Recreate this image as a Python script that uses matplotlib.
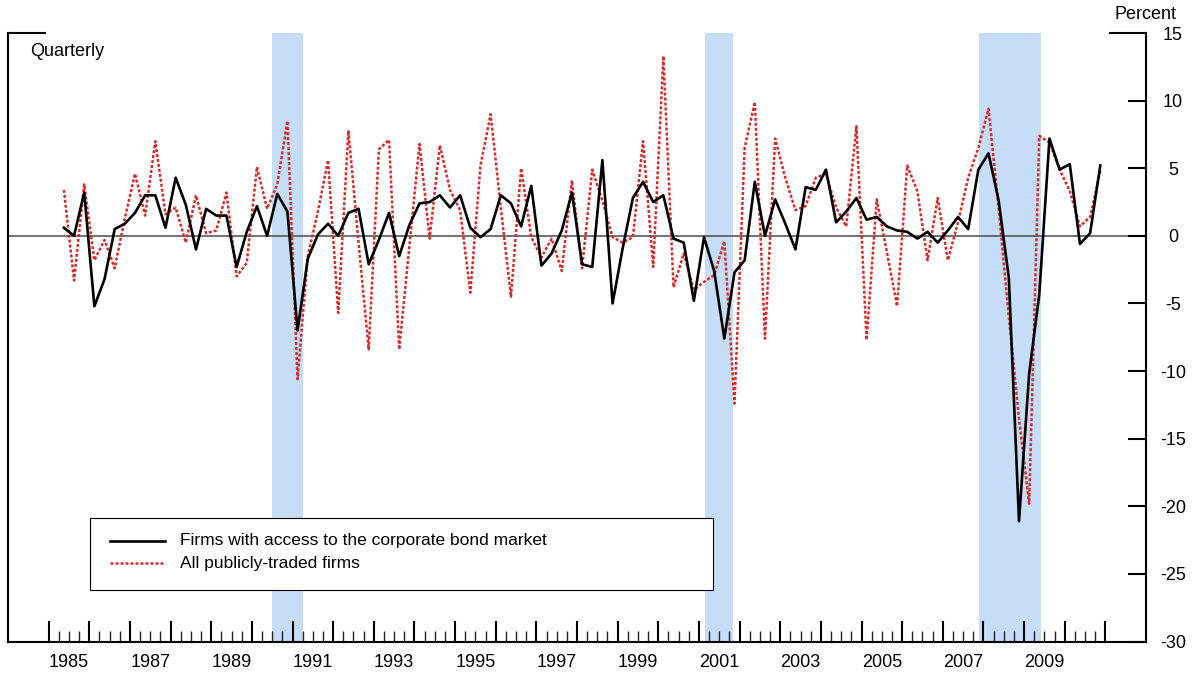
import numpy as np
import pandas as pd
import matplotlib
matplotlib.use("Agg")
import matplotlib.pyplot as plt
import matplotlib.transforms as mtransforms
from matplotlib.patches import Rectangle
from matplotlib.lines import Line2D

plt.rcParams['font.family'] = ['Liberation Sans', 'DejaVu Sans']
plt.rcParams['axes.unicode_minus'] = False

# Quarterly observations, 1985Q2 - 2010Q4 (percent)
quarters = pd.period_range("1985Q2", "2010Q4", freq="Q")

bond_access = [
    0.6, 0.0, 3.2, -5.2, -3.2, 0.5, 0.9, 1.7, 3.0, 3.0,
    0.6, 4.3, 2.3, -1.0, 2.0, 1.5, 1.5, -2.3, 0.3, 2.2,
    0.0, 3.1, 1.8, -7.0, -1.7, 0.1, 0.9, 0.0, 1.7, 2.0,
    -2.1, -0.3, 1.7, -1.5, 0.8, 2.4, 2.5, 3.0, 2.1, 3.0,
    0.6, -0.1, 0.5, 3.0, 2.4, 0.7, 3.7, -2.2, -1.3, 0.4,
    3.2, -2.1, -2.3, 5.6, -5.0, -0.9, 2.8, 4.0, 2.5, 3.0,
    -0.2, -0.5, -4.8, -0.1, -2.6, -7.6, -2.7, -1.8, 4.0, 0.0,
    2.7, 0.9, -1.0, 3.6, 3.4, 4.9, 1.0, 1.8, 2.8, 1.2,
    1.4, 0.7, 0.4, 0.3, -0.2, 0.3, -0.5, 0.4, 1.4, 0.5,
    4.9, 6.1, 2.6, -3.1, -21.1, -10.2, -4.3, 7.2, 4.9, 5.3,
    -0.6, 0.2, 5.2,
]

all_public = [
    3.4, -3.3, 3.8, -1.8, -0.3, -2.4, 1.3, 4.6, 1.5, 7.0,
    1.6, 2.1, -0.5, 3.0, 0.2, 0.4, 3.2, -3.0, -2.0, 5.1,
    2.0, 3.8, 8.5, -10.6, -1.5, 1.8, 5.6, -5.7, 7.8, -0.5,
    -8.4, 6.4, 7.1, -8.4, -0.8, 6.8, -0.2, 6.7, 3.4, 1.9,
    -4.2, 5.2, 9.0, 2.1, -4.5, 5.0, -0.1, -1.6, -0.2, -2.6,
    4.1, -2.4, 4.9, 2.6, -0.1, -0.5, -0.1, 7.0, -2.3, 13.3,
    -3.8, -1.3, -4.0, -3.4, -2.9, -0.4, -12.4, 6.5, 9.9, -7.6,
    7.2, 4.3, 1.9, 2.2, 4.3, 4.6, 2.1, 0.7, 8.1, -7.7,
    2.7, -1.2, -5.2, 5.2, 3.3, -1.8, 2.8, -1.8, 1.0, 4.3,
    6.5, 9.4, 2.0, -6.0, -13.5, -19.8, 7.4, 6.9, 4.9, 3.3,
    0.7, 1.4, 4.8,
]

series_labels = ["Firms with access to the corporate bond market",
                 "All publicly-traded firms"]

# NBER recession periods (fractional years)
recessions = [(1990.5, 1991.27), (2001.16, 2001.85), (2007.9, 2009.42)]

label_years = list(range(1985, 2010, 2))
ytick_values = list(range(-30, 16, 5))

# mid-quarter positions
x = np.array([p.year + (p.quarter - 1) / 4 + 0.125 for p in quarters])

W, H = 1194, 673
fig = plt.figure(figsize=(W / 100, H / 100), dpi=100)
ax = fig.add_axes([8 / W, 1 - 641.6 / H, 1138 / W, 608.6 / H])

ax.set_xlim(1984, 2012)
ax.set_ylim(-30, 15)

for start, end in recessions:
    ax.axvspan(start, end, color='#c6ddf7', lw=0, zorder=0)

ax.axhline(0, color='#4a4a4a', lw=1.1, zorder=1)

red = '#d42b2b'
ax.plot(x, bond_access, color='black', lw=1.9, zorder=3)
ax.plot(x, all_public, color=red, lw=1.8, linestyle=(0, (1.2, 0.8)), zorder=2)

# spines
for side in ('left', 'right', 'bottom'):
    ax.spines[side].set_linewidth(1.5)
    ax.spines[side].set_color('black')
ax.spines['top'].set_visible(False)

# x axis: yearly major ticks, quarterly minor ticks, labels mid-year
years = np.arange(1985, 2012)
ax.set_xticks(years)
qticks = [y + q / 4 for y in range(1985, 2011) for q in (1, 2, 3)]
ax.set_xticks(qticks, minor=True)
ax.tick_params(axis='x', which='major', direction='in', length=15, width=1.5,
               color='black', labelbottom=False, top=False)
ax.tick_params(axis='x', which='minor', direction='in', length=8, width=1.0,
               color='#222222', top=False)

trans = mtransforms.blended_transform_factory(ax.transData, ax.transAxes)
for yr in label_years:
    ax.text(yr + 0.5, -0.034, str(yr), transform=trans, ha='center',
            va='center', fontsize=13)

# y axis on the right
ax.set_yticks(ytick_values)
ax.tick_params(axis='y', which='major', direction='in', length=13, width=1.5,
               left=True, right=True, labelleft=False, labelright=True,
               pad=19.5, labelsize=13)
for lbl in ax.get_yticklabels():
    lbl.set_horizontalalignment('center')
for val, tick in zip(ytick_values, ax.yaxis.get_major_ticks()):
    if val == 15:
        tick.tick1line.set_markersize(27)
        tick.tick2line.set_markersize(27)
    else:
        tick.tick1line.set_visible(False)

ax.text(1.0264, 1.031, "Percent", transform=ax.transAxes, ha='right',
        va='center', fontsize=13)
ax.text(0.0193, 0.9704, "Quarterly", transform=ax.transAxes, ha='left',
        va='center', fontsize=13)

# legend box
ax.add_patch(Rectangle((0.0721, 0.0848), 0.5475, 0.1183, transform=ax.transAxes,
                       facecolor='white', edgecolor='black', lw=0.8, zorder=5))
ax.add_line(Line2D([0.0896, 0.138], [0.1653, 0.1653], transform=ax.transAxes,
                   color='black', lw=1.9, zorder=6))
ax.add_line(Line2D([0.0896, 0.138], [0.1291, 0.1291], transform=ax.transAxes,
                   color=red, lw=1.8, linestyle=(0, (1.2, 0.8)), zorder=6))
ax.text(0.1511, 0.1653, series_labels[0], transform=ax.transAxes, ha='left',
        va='center', fontsize=12.5, zorder=7)
ax.text(0.1511, 0.1291, series_labels[1], transform=ax.transAxes, ha='left',
        va='center', fontsize=12.5, zorder=7)

fig.savefig("out.png", dpi=100)
